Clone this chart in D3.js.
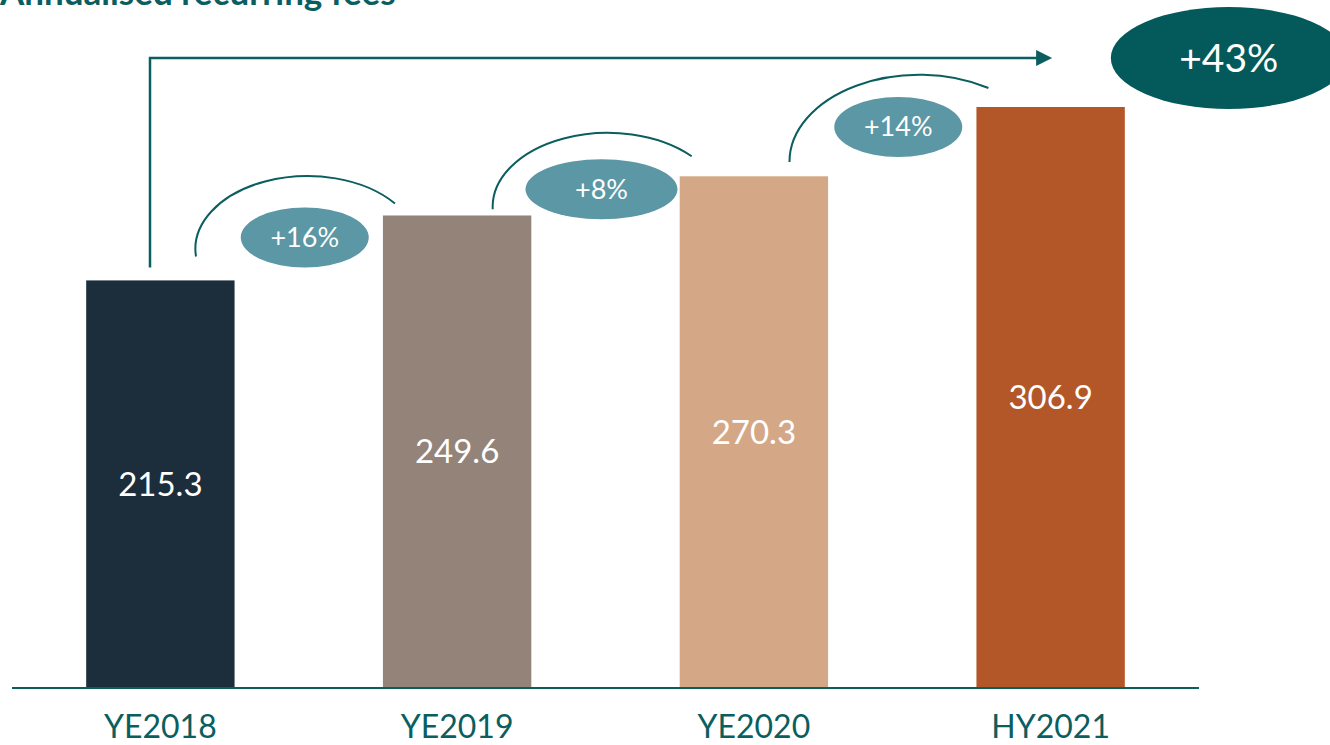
<!DOCTYPE html>
<html>
<head>
<meta charset="utf-8">
<script src="https://cdn.jsdelivr.net/npm/d3@7"></script>
<style>
  body { margin: 0; background: #fff; }
  svg { display: block; font-family: Lato, "Noto Sans", sans-serif; }
</style>
</head>
<body>
<script>
let width = 1330
let height = 745
let teal = '#0b5e5f'

let title = 'Annualised recurring fees'
let categories = ['YE2018', 'YE2019', 'YE2020', 'HY2021']
let values = [215.3, 249.6, 270.3, 306.9]
let barColors = ['#1c2e3c', '#948379', '#d4a886', '#b45728']
let stepLabels = ['+16%', '+8%', '+14%']
let totalLabel = '+43%'

// hand placed annotation offsets (px) for the step arcs and pills
let arcStartDy = [41, 33, 55]
let arcEndDy = [-12, -20, -19]
let arcRx = [112, 115, 130]
let arcRy = [73, 74, 87]
let pillDy = [22, 13, 20]
let pillRx = [64, 76, 64]

let x = d3.scaleBand()
    .domain(categories)
    .range([12, 1199])
    .paddingInner(0.5)
    .paddingOuter(0.25)

let y = d3.scaleLinear()
    .domain([0, 306.9])
    .range([688, 107])

let svg = d3.select('body')
    .append('svg')
    .attr('width', width)
    .attr('height', height)

// title sits mostly above the top edge, as in the source crop
svg.append('text')
    .attr('x', 0)
    .attr('y', 5)
    .attr('fill', teal)
    .attr('font-size', 35)
    .attr('font-weight', 700)
    .text(title)

let bw = x.bandwidth()

svg.selectAll('rect.bar')
    .data(values)
    .enter()
    .append('rect')
    .attr('class', 'bar')
    .attr('x', (d, i) => x(categories[i]))
    .attr('y', d => y(d))
    .attr('width', bw)
    .attr('height', d => y(0) - y(d))
    .attr('fill', (d, i) => barColors[i])

svg.selectAll('text.val')
    .data(values)
    .enter()
    .append('text')
    .attr('class', 'val')
    .attr('x', (d, i) => x(categories[i]) + bw / 2)
    .attr('y', d => (y(d) + y(0)) / 2)
    .attr('dy', '0.35em')
    .attr('text-anchor', 'middle')
    .attr('fill', '#fff')
    .attr('font-size', 33)
    .text(d => d.toFixed(1))

// baseline axis
let axis = svg.append('g')
    .attr('transform', `translate(0,${y(0)})`)
    .call(d3.axisBottom(x).tickSize(0).tickPadding(28))
axis.select('.domain')
    .attr('stroke', teal)
    .attr('stroke-width', 2)
    .attr('d', 'M12,0H1199')
axis.selectAll('text')
    .attr('fill', teal)
    .attr('font-size', 32)
    .attr('font-family', 'Lato, "Noto Sans", sans-serif')
    .attr('dy', '0.68em')

// step arcs and pills
stepLabels.forEach((lab, i) => {
    let a = categories[i], b = categories[i + 1]
    let topNext = y(values[i + 1])
    let x0 = x(a) + bw * 0.74
    let y0 = topNext + arcStartDy[i]
    let x1 = x(b) + 12
    let y1 = topNext + arcEndDy[i]
    svg.append('path')
        .attr('d', `M${x0},${y0}A${arcRx[i]},${arcRy[i]} 0 0 1 ${x1},${y1}`)
        .attr('fill', 'none')
        .attr('stroke', teal)
        .attr('stroke-width', 2)
    let cx = (x(a) + bw + x(b)) / 2 - 4
    let cy = topNext + pillDy[i]
    svg.append('ellipse')
        .attr('cx', cx)
        .attr('cy', cy)
        .attr('rx', pillRx[i])
        .attr('ry', 30)
        .attr('fill', '#5b97a4')
    svg.append('text')
        .attr('x', cx)
        .attr('y', cy)
        .attr('dy', '0.35em')
        .attr('text-anchor', 'middle')
        .attr('fill', '#fff')
        .attr('font-size', 27)
        .text(lab)
})

// overall bracket arrow
let bx = x(categories[0]) + bw * 0.43
let by = y(values[0]) - 13
let topY = 58
let tip = x(categories[3]) + bw * 0.51
svg.append('path')
    .attr('d', `M${bx},${by}V${topY}H${tip - 14}`)
    .attr('fill', 'none')
    .attr('stroke', teal)
    .attr('stroke-width', 2.5)
svg.append('path')
    .attr('d', `M${tip},${topY}L${tip - 16},${topY - 8}V${topY + 8}Z`)
    .attr('fill', teal)

let bigCx = x(categories[3]) + bw + 104
svg.append('ellipse')
    .attr('cx', bigCx)
    .attr('cy', topY)
    .attr('rx', 118)
    .attr('ry', 51)
    .attr('fill', '#045a5a')
svg.append('text')
    .attr('x', bigCx)
    .attr('y', topY)
    .attr('dy', '0.35em')
    .attr('text-anchor', 'middle')
    .attr('fill', '#fff')
    .attr('font-size', 39)
    .text(totalLabel)
</script>
</body>
</html>
